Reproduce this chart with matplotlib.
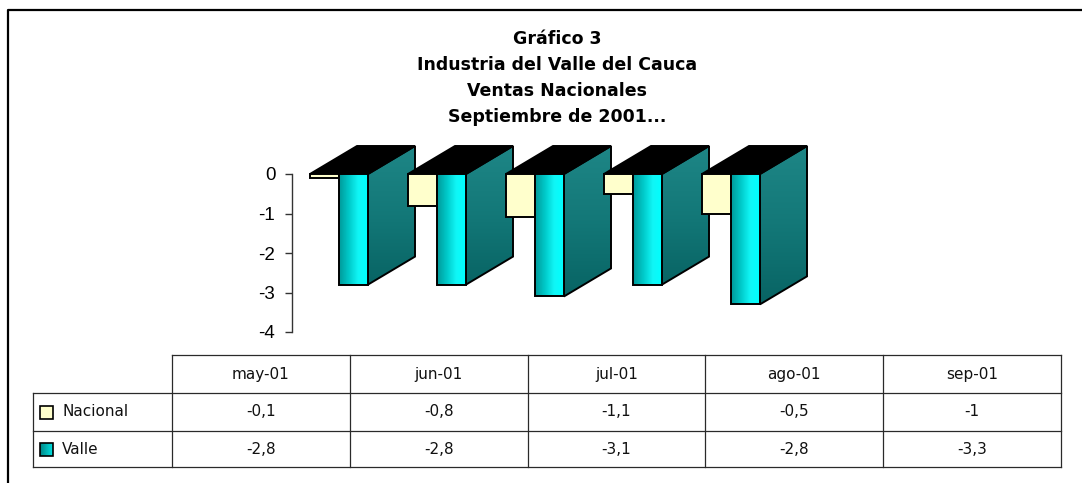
import matplotlib
matplotlib.use('Agg')
import matplotlib.pyplot as plt
from matplotlib.patches import Polygon
from matplotlib.colors import LinearSegmentedColormap
import numpy as np

plt.rcParams['axes.unicode_minus'] = False

# ── datos ────────────────────────────────────────────────────────────────────
meses = ["may-01", "jun-01", "jul-01", "ago-01", "sep-01"]
nacional = [-0.1, -0.8, -1.1, -0.5, -1.0]
valle = [-2.8, -2.8, -3.1, -2.8, -3.3]
series = ["Nacional", "Valle"]
titulo = ["Gráfico 3", "Industria del Valle del Cauca",
          "Ventas Nacionales", "Septiembre de 2001..."]
yticks = [0, -1, -2, -3, -4]

W, H = 1082, 483
fig = plt.figure(figsize=(W / 100, H / 100), dpi=100)
fig.patch.set_facecolor("white")

# capa de fondo en pixeles: marco, titulo y tabla de datos
bg = fig.add_axes([0, 0, 1, 1])
bg.set_xlim(0, W)
bg.set_ylim(H, 0)
bg.axis('off')

bg.plot([8, 8, W + 5], [H + 5, 10, 10], color="black", lw=1.6)

ty = [39, 65, 91, 117]
for t, y in zip(titulo, ty):
    bg.text(557, y, t, ha='center', va='center', fontsize=12.5,
            fontweight='bold', family='DejaVu Sans', color='black')

# tabla
col_x = np.linspace(172, 1061, len(meses) + 1)
row_y = [355, 393, 431, 467]
lc = "#2a2a2a"
bg.plot([172, 1061], [row_y[0]] * 2, color=lc, lw=0.9)
for y in row_y[1:]:
    bg.plot([33, 1061], [y, y], color=lc, lw=0.9)
bg.plot([33, 33], [row_y[1], row_y[3]], color=lc, lw=0.9)
for x in col_x:
    bg.plot([x, x], [row_y[0], row_y[3]], color=lc, lw=0.9)

def fmt(v):
    s = f"{v:g}"
    return s.replace(".", ",")

tkw = dict(fontsize=11, family='DejaVu Sans', color='#111111', va='center')
for j, m in enumerate(meses):
    cx = (col_x[j] + col_x[j + 1]) / 2
    bg.text(cx, (row_y[0] + row_y[1]) / 2, m, ha='center', **tkw)
    bg.text(cx, (row_y[1] + row_y[2]) / 2, fmt(nacional[j]), ha='center', **tkw)
    bg.text(cx, (row_y[2] + row_y[3]) / 2, fmt(valle[j]), ha='center', **tkw)

# claves de la leyenda dentro de la tabla
bg.add_patch(Polygon([[40, 406], [53, 406], [53, 419], [40, 419]],
                     closed=True, facecolor="#FFFFCC", edgecolor="black", lw=1.2))
key2 = Polygon([[40, 443], [53, 443], [53, 456], [40, 456]], closed=True,
               facecolor="none", edgecolor="black", lw=1.2, zorder=3)
bg.add_patch(key2)
g = np.linspace(0, 1, 20)[None, :]
cm_key = LinearSegmentedColormap.from_list("k", ["#008888", "#00E0E0"])
im = bg.imshow(g, cmap=cm_key, extent=[40, 53, 456, 443], aspect='auto', zorder=2)
im.set_clip_path(key2)
bg.set_xlim(0, W)
bg.set_ylim(H, 0)
for s, y in zip(series, [412, 449]):
    bg.text(62, y, s, ha='left', **tkw)

# ── grafico 3D de barras ─────────────────────────────────────────────────────
px_unit = 98.0          # pixeles por categoria
py_unit = 39.5          # pixeles por unidad de valor
x0_px = 339.0           # borde izquierdo de la barra Valle de la primera categoria
y0_px = 174.0           # linea del cero
ax_l, ax_r = 292.0, 830.0
ymin, ymax = -4.1, 0.9
ax_top = y0_px - ymax * py_unit
ax_bot = y0_px - ymin * py_unit
ax = fig.add_axes([ax_l / W, (H - ax_bot) / H, (ax_r - ax_l) / W, (ax_bot - ax_top) / H])
ax.patch.set_visible(False)

bw = 29 / px_unit       # ancho de cada barra
dx = 47 / px_unit       # profundidad horizontal
dy = 28 / py_unit       # profundidad vertical

cm_front = LinearSegmentedColormap.from_list(
    "front", ["#009A9A", "#00C8C8", "#10F6F6", "#00FFFF"])
cm_side = LinearSegmentedColormap.from_list(
    "side", ["#086464", "#137878", "#1E8686"])

def face(pts, z, fc="none"):
    p = Polygon(pts, closed=True, facecolor=fc, edgecolor="black",
                lw=1.4, joinstyle='miter', zorder=z)
    ax.add_patch(p)
    return p

def fill_grad(poly, cmap, extent, z, horizontal=True):
    if horizontal:
        img = np.linspace(0, 1, 64)[None, :]
    else:
        img = np.linspace(0, 1, 64)[:, None]
    im = ax.imshow(img, cmap=cmap, extent=extent, aspect='auto',
                   origin='lower', zorder=z, interpolation='bilinear')
    im.set_clip_path(poly)

for i, (n, v) in enumerate(zip(nacional, valle)):
    z = 2 + i * 10
    vl = i
    vr = i + bw
    nl = i - bw

    # cara lateral de Valle
    side = [[vr, 0], [vr + dx, dy], [vr + dx, v + dy], [vr, v]]
    p = face(side, z + 1)
    fill_grad(p, cm_side, [vr, vr + dx, v, dy], z, horizontal=False)

    # tapas negras
    face([[nl, 0], [vr, 0], [vr + dx, dy], [nl + dx, dy]], z + 2, fc="black")

    # frente Nacional
    face([[nl, 0], [vl, 0], [vl, n], [nl, n]], z + 3, fc="#FFFFCC")

    # frente Valle
    p = face([[vl, 0], [vr, 0], [vr, v], [vl, v]], z + 5)
    fill_grad(p, cm_front, [vl, vr, v, 0], z + 4)

ax.set_xlim((ax_l - x0_px) / px_unit, (ax_r - x0_px) / px_unit)
ax.set_ylim(ymin, ymax)
for s in ["top", "right", "bottom"]:
    ax.spines[s].set_visible(False)
ax.spines["left"].set_bounds(-4, 0)
ax.spines["left"].set_color("#333333")
ax.spines["left"].set_linewidth(1.0)
ax.set_xticks([])
ax.set_yticks(yticks)
ax.set_yticklabels([str(t) for t in yticks], family='Liberation Sans')
ax.tick_params(axis='y', length=5, width=1.0, color="#333333",
               labelsize=13.5, pad=7)

fig.savefig("out.png", dpi=100)
